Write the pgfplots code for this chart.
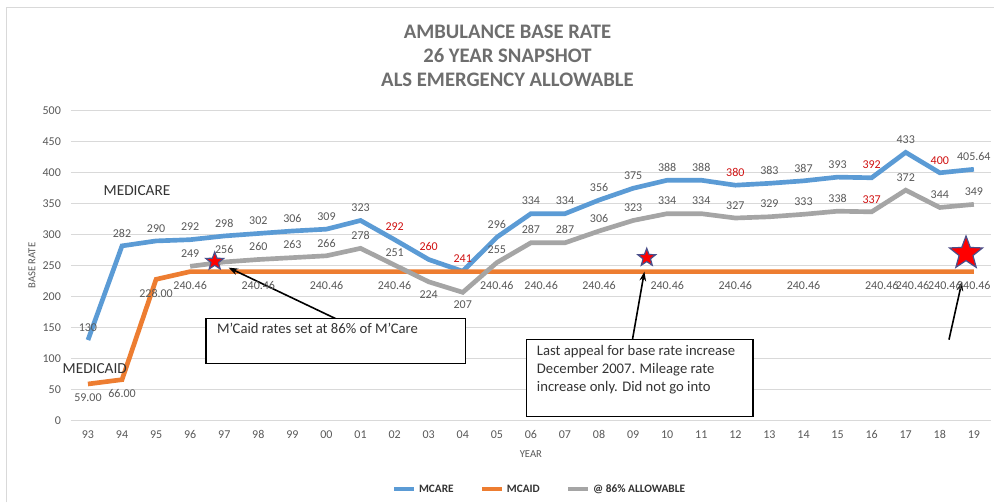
\documentclass[border=0pt]{standalone}
\usepackage{fontspec}
\setmainfont{Carlito}
\usepackage{pgfplots}
\pgfplotsset{compat=1.18}
\usetikzlibrary{arrows.meta}
\definecolor{mblue}{HTML}{5B9BD5}
\definecolor{morange}{HTML}{ED7D31}
\definecolor{mgrey}{HTML}{A5A5A5}
\definecolor{lab}{HTML}{595959}
\definecolor{titlec}{HTML}{6E6E6E}
\definecolor{redlab}{HTML}{D01010}
\definecolor{gridc}{HTML}{D9D9D9}
\definecolor{starline}{HTML}{4A4F8A}
\pgfdeclareplotmark{fstar}{%
  \pgfpathmoveto{\pgfpointpolar{90}{\pgfplotmarksize}}%
  \pgfpathlineto{\pgfpointpolar{126}{0.42\pgfplotmarksize}}%
  \pgfpathlineto{\pgfpointpolar{162}{\pgfplotmarksize}}%
  \pgfpathlineto{\pgfpointpolar{198}{0.42\pgfplotmarksize}}%
  \pgfpathlineto{\pgfpointpolar{234}{\pgfplotmarksize}}%
  \pgfpathlineto{\pgfpointpolar{270}{0.42\pgfplotmarksize}}%
  \pgfpathlineto{\pgfpointpolar{306}{\pgfplotmarksize}}%
  \pgfpathlineto{\pgfpointpolar{342}{0.42\pgfplotmarksize}}%
  \pgfpathlineto{\pgfpointpolar{18}{\pgfplotmarksize}}%
  \pgfpathlineto{\pgfpointpolar{54}{0.42\pgfplotmarksize}}%
  \pgfpathclose
  \pgfusepathqfillstroke
}
\begin{document}
\begin{tikzpicture}
\begin{scope}[x=0.75pt,y=0.75pt]
\useasboundingbox (0,0) rectangle (995,503);
\fill[white] (0,0) rectangle (995,503);
\draw[gridc, line width=0.75pt] (7,0) -- (7,495) -- (995,495);
\node[font=\fontsize{15.5}{18}\selectfont\bfseries, text=titlec] at (508,471) {AMBULANCE BASE RATE};
\node[font=\fontsize{15.5}{18}\selectfont\bfseries, text=titlec] at (508,447) {26 YEAR SNAPSHOT};
\node[font=\fontsize{15.5}{18}\selectfont\bfseries, text=titlec] at (508,423) {ALS EMERGENCY ALLOWABLE};
\end{scope}
\begin{axis}[
  at={(53.25pt,61.5pt)}, anchor=south west,
  scale only axis, width=690.75pt, height=232.5pt,
  xmin=-0.5, xmax=26.5, ymin=0, ymax=500,
  axis lines*=left, axis line style={draw=none},
  ymajorgrids, grid style={gridc, line width=0.75pt},
  ytick={0,50,...,500},
  xtick={0,...,26},
  xticklabels={93,94,95,96,97,98,99,00,01,02,03,04,05,06,07,08,09,10,11,12,13,14,15,16,17,18,19},
  major tick length=0pt,
  ticklabel style={font=\fontsize{9}{11}\selectfont, text=lab},
  /pgf/number format/assume math mode=true,
  xticklabel style={yshift=-4pt},
  yticklabel style={xshift=-4pt},
  ylabel={BASE RATE}, xlabel={YEAR},
  label style={font=\fontsize{8}{10}\selectfont, text=lab},
  ylabel style={at={(rel axis cs:-0.0423,0.5)}, anchor=center},
  xlabel style={at={(rel axis cs:0.5,-0.1097)}, anchor=center},
  clip=false,
  legend columns=3,
  legend style={at={(rel axis cs:0.51,-0.2226)}, anchor=center, draw=none, fill=none,
    font=\fontsize{8.5}{10}\selectfont\bfseries, text=black!80,
    /tikz/every even column/.append style={column sep=18pt}},
  legend image code/.code={\draw[line width=3pt] (0pt,0pt) -- (15pt,0pt);},
]
\addplot[mblue, line width=3.5pt] coordinates {
(0,130)(1,282)(2,290)(3,292)(4,298)(5,302)(6,306)(7,309)(8,323)(9,292)(10,260)(11,241)(12,296)(13,334)(14,334)(15,356)(16,375)(17,388)(18,388)(19,380)(20,383)(21,387)(22,393)(23,392)(24,433)(25,400)(26,405.64)};
\addlegendentry{MCARE}
\addplot[morange, line width=3.5pt] coordinates {
(0,59)(1,66)(2,228)(3,240.46)(4,240.46)(5,240.46)(6,240.46)(7,240.46)(8,240.46)(9,240.46)(10,240.46)(11,240.46)(12,240.46)(13,240.46)(14,240.46)(15,240.46)(16,240.46)(17,240.46)(18,240.46)(19,240.46)(20,240.46)(21,240.46)(22,240.46)(23,240.46)(24,240.46)(25,240.46)(26,240.46)};
\addlegendentry{MCAID}
\addplot[mgrey, line width=3.5pt] coordinates {
(3,249)(4,256)(5,260)(6,263)(7,266)(8,278)(9,251)(10,224)(11,207)(12,255)(13,287)(14,287)(15,306)(16,323)(17,334)(18,334)(19,327)(20,329)(21,333)(22,338)(23,337)(24,372)(25,344)(26,349)};
\addlegendentry{@ 86\% ALLOWABLE}
% MCARE labels (grey)
\addplot[draw=none, forget plot, nodes near coords, point meta=explicit symbolic,
  every node near coord/.style={font=\fontsize{9}{11}\selectfont, text=lab, anchor=south, yshift=3pt}]
  table[meta=l] {
x y l
0 130 130
1 282 282
2 290 290
3 292 292
4 298 298
5 302 302
6 306 306
7 309 309
8 323 323
12 296 296
13 334 334
14 334 334
15 356 356
16 375 375
17 388 388
18 388 388
20 383 383
21 387 387
22 393 393
24 433 433
26 405.64 405.64
};
\addplot[draw=none, forget plot, nodes near coords, point meta=explicit symbolic,
  every node near coord/.style={font=\fontsize{9}{11}\selectfont, text=redlab, anchor=south, yshift=3pt}]
  table[meta=l] {
x y l
9 292 292
10 260 260
11 241 241
19 380 380
23 392 392
25 400 400
};
% grey series labels
\addplot[draw=none, forget plot, nodes near coords, point meta=explicit symbolic,
  every node near coord/.style={font=\fontsize{9}{11}\selectfont, text=lab, anchor=south, yshift=3pt}]
  table[meta=l] {
x y l
3 249 249
4 256 256
5 260 260
6 263 263
7 266 266
8 278 278
9 251 251
12 255 255
13 287 287
14 287 287
15 306 306
16 323 323
17 334 334
18 334 334
19 327 327
20 329 329
21 333 333
22 338 338
24 372 372
25 344 344
26 349 349
};
\addplot[draw=none, forget plot, nodes near coords, point meta=explicit symbolic,
  every node near coord/.style={font=\fontsize{9}{11}\selectfont, text=redlab, anchor=south, yshift=3pt}]
  table[meta=l] {
x y l
23 337 337
};
\addplot[draw=none, forget plot, nodes near coords, point meta=explicit symbolic,
  every node near coord/.style={font=\fontsize{9}{11}\selectfont, text=lab, anchor=north, yshift=-3pt}]
  table[meta=l] {
x y l
10 224 224
11 207 207
};
% MCAID labels
\addplot[draw=none, forget plot, nodes near coords, point meta=explicit symbolic,
  every node near coord/.style={font=\fontsize{9}{11}\selectfont, text=lab, anchor=north, yshift=-4pt}]
  table[meta=l] {
x y l
0 59 59.00
1 66 66.00
2 228 228.00
3 240.46 240.46
5 240.46 240.46
7 240.46 240.46
9 240.46 240.46
12 240.46 240.46
13.3 240.46 240.46
15 240.46 240.46
17 240.46 240.46
19 240.46 240.46
21 240.46 240.46
23.3 240.46 240.46
24.2 240.46 240.46
25.15 240.46 240.46
26 240.46 240.46
};
% stars
\addplot[forget plot, only marks, mark=fstar, mark size=7pt, mark options={fill=red, draw=starline, line width=0.9pt}] coordinates {(3.72,257)(16.4,263)};
\addplot[forget plot, only marks, mark=fstar, mark size=13pt, mark options={fill=red, draw=starline, line width=0.9pt}] coordinates {(25.77,270)};
% arrows
\draw[-{Stealth[length=7pt,width=5pt]}, line width=1.2pt] (axis cs:7.27,164.5) -- (axis cs:4.13,246.8);
\draw[-{Stealth[length=7pt,width=5pt]}, line width=1.2pt] (axis cs:15.98,130.6) -- (axis cs:16.33,240.3);
\draw[-{Stealth[length=7pt,width=5pt]}, line width=1.2pt] (axis cs:25.27,130.6) -- (axis cs:25.65,224.2);
% boxes
\draw[line width=1.2pt, fill=white] (axis cs:3.46,164.5) rectangle (axis cs:11.08,91.9);
\node[anchor=north west, font=\fontsize{11}{13}\selectfont, text=black!80, inner sep=0pt] at (axis cs:3.78,157) {M'Caid rates set at 86\% of M'Care};
\draw[line width=1.2pt, fill=white] (axis cs:12.87,130.6) rectangle (axis cs:19.52,6.5);
\node[anchor=north west, align=left, font=\fontsize{11}{13.5}\selectfont, text=black!80, inner sep=0pt] at (axis cs:13.17,122) {Last appeal for base rate increase\\December 2007. Mileage rate\\increase only. Did not go into};
% series names
\node[font=\fontsize{11.5}{13}\selectfont, text=black!80] at (axis cs:1.44,372) {MEDICARE};
\node[font=\fontsize{11.5}{13}\selectfont, text=black!80] at (axis cs:0.2,84) {MEDICAID};
\end{axis}
\end{tikzpicture}
\end{document}
